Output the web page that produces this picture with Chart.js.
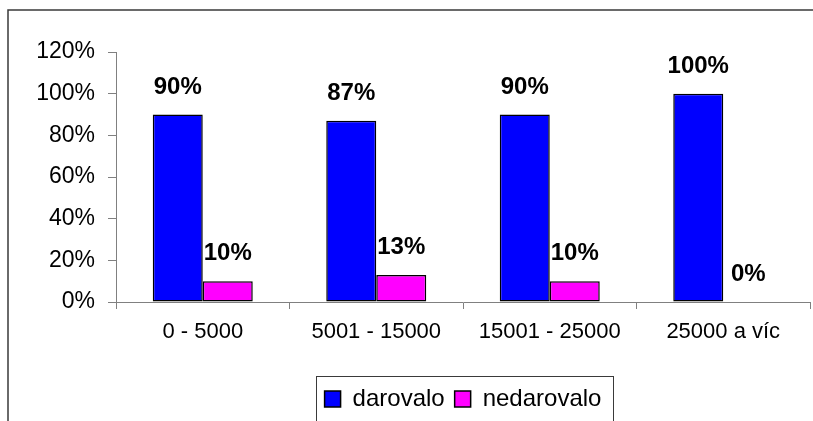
<!DOCTYPE html>
<html>
<head>
<meta charset="utf-8">
<script src="https://cdn.jsdelivr.net/npm/chart.js@4/dist/chart.umd.min.js"></script>
<style>
  html, body { margin: 0; padding: 0; background: #fff; }
  #wrap { width: 813px; height: 421px; position: relative; }
</style>
</head>
<body>
<div id="wrap"><canvas id="c" width="813" height="421"></canvas></div>
<script>
const categories = ['0 - 5000', '5001 - 15000', '15001 - 25000', '25000 a víc'];
const seriesNames = ['darovalo', 'nedarovalo'];
const darovalo = [90, 87, 90, 100];
const nedarovalo = [10, 13, 10, 0];
const yTicks = [0, 20, 40, 60, 80, 100, 120];

const FONT = "'Liberation Sans', Arial, sans-serif";

const framePlugin = {
  id: 'frame',
  beforeDraw(chart) {
    const ctx = chart.ctx;
    ctx.save();
    ctx.fillStyle = '#fff';
    ctx.fillRect(0, 0, chart.width, chart.height);
    ctx.strokeStyle = '#3a3a3a';
    ctx.lineWidth = 1.5;
    ctx.beginPath();
    ctx.moveTo(8, chart.height + 5);
    ctx.lineTo(8, 10);
    ctx.lineTo(chart.width + 5, 10);
    ctx.stroke();
    ctx.restore();
  }
};

const valueLabelPlugin = {
  id: 'valueLabels',
  afterDatasetsDraw(chart) {
    const ctx = chart.ctx;
    ctx.save();
    ctx.font = 'bold 24px ' + FONT;
    ctx.fillStyle = '#000';
    ctx.textAlign = 'center';
    ctx.textBaseline = 'middle';
    chart.data.datasets.forEach((ds, di) => {
      const meta = chart.getDatasetMeta(di);
      meta.data.forEach((bar, i) => {
        ctx.fillText(ds.data[i] + '%', bar.x, bar.y - 27.5);
      });
    });
    ctx.restore();
  }
};

const legendBoxPlugin = {
  id: 'legendBox',
  afterDraw(chart) {
    const lg = chart.legend;
    if (!lg || !lg.legendHitBoxes || !lg.legendHitBoxes.length) return;
    const hb = lg.legendHitBoxes;
    const first = hb[0], last = hb[hb.length - 1];
    const ctx = chart.ctx;
    const x0 = Math.round(first.left - 9) + 0.5;
    const x1 = Math.round(last.left + last.width + 12) + 0.5;
    const y0 = Math.round(first.top - 11) + 0.5;
    ctx.save();
    ctx.strokeStyle = '#3a3a3a';
    ctx.lineWidth = 1;
    ctx.strokeRect(x0, y0, x1 - x0, chart.height + 20 - y0);
    ctx.restore();
  }
};

new Chart(document.getElementById('c'), {
  type: 'bar',
  data: {
    labels: categories,
    datasets: [
      { label: seriesNames[0], data: darovalo, backgroundColor: '#0000ff', borderColor: '#000', borderWidth: 1.5, borderSkipped: false },
      { label: seriesNames[1], data: nedarovalo, backgroundColor: '#ff00ff', borderColor: '#000', borderWidth: 1.5, borderSkipped: false }
    ]
  },
  options: {
    responsive: false,
    animation: false,
    devicePixelRatio: 1,
    layout: { padding: { top: 52, right: 3, left: 0, bottom: 0 } },
    datasets: { bar: { categoryPercentage: 100 / 173.5, barPercentage: 1 } },
    plugins: {
      tooltip: { enabled: false },
      legend: {
        position: 'bottom',
        fullSize: false,
        labels: {
          boxWidth: 16,
          boxHeight: 16,
          padding: 10,
          color: '#000',
          font: { family: FONT, size: 24, lineHeight: 1 }
        }
      }
    },
    scales: {
      x: {
        afterFit(s) { s.height = 75; },
        grid: { display: true, drawOnChartArea: false, drawTicks: true, tickLength: 7, color: '#808080', offset: true },
        border: { display: true, color: '#808080', width: 1 },
        ticks: { color: '#000', padding: 10, font: { family: FONT, size: 22 } }
      },
      y: {
        min: 0, max: 120,
        afterFit(s) { s.width = 116; },
        afterBuildTicks(s) { s.ticks = yTicks.map(v => ({ value: v })); },
        grid: { display: true, drawOnChartArea: false, drawTicks: true, tickLength: 8, color: '#808080' },
        border: { display: true, color: '#808080', width: 1 },
        ticks: { color: '#000', padding: 13, font: { family: FONT, size: 23 }, callback: v => v + '%' }
      }
    }
  },
  plugins: [framePlugin, valueLabelPlugin, legendBoxPlugin]
});
</script>
</body>
</html>
